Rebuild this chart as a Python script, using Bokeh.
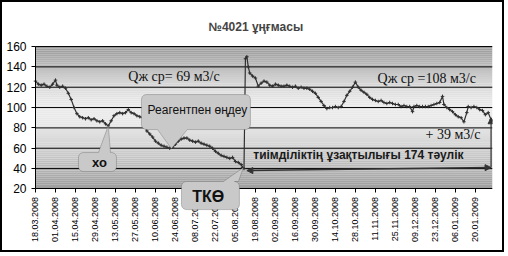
import numpy as np
import pandas as pd
from bokeh.plotting import figure
from bokeh.models import (FixedTicker, Range1d, Label, PolyAnnotation, Arrow,
                          NormalHead, BoxAnnotation)
from bokeh.embed import file_html
from bokeh.resources import INLINE

# ---------------- data ----------------
START = "18.03.2008"
tick_labels = ["18.03.2008", "01.04.2008", "15.04.2008", "29.04.2008", "13.05.2008",
               "27.05.2008", "10.06.2008", "24.06.2008", "08.07.2008", "22.07.2008",
               "05.08.2008", "19.08.2008", "02.09.2008", "16.09.2008", "30.09.2008",
               "14.10.2008", "28.10.2008", "11.11.2008", "25.11.2008", "09.12.2008",
               "23.12.2008", "06.01.2009", "20.01.2009"]
y_ticks = [20, 40, 60, 80, 100, 120, 140, 160]
X_END = 320  # last day of the date axis

# day offset from START, liquid rate (m3/day)
days = [0, 2, 4, 6, 8, 10, 12, 14, 15, 17, 19, 21, 23, 25, 27, 29, 31, 33, 35, 37,
        39, 41, 43, 45, 47, 49, 51, 53, 55, 57, 59, 61, 63, 65, 67, 69, 71, 73, 75, 76,
        78, 80, 82, 84, 86, 88, 90, 92, 94, 96, 98, 100, 102, 104, 106, 108, 110, 112, 114, 116,
        118, 120, 122, 124, 126, 128, 130, 132, 134, 136, 138, 140, 142, 144, 145, 146, 147, 148, 149, 150,
        152, 154, 156, 158, 160, 162, 164, 166, 168, 170, 172, 174, 176, 178, 180, 182, 184, 186, 188, 190,
        192, 194, 196, 198, 200, 202, 204, 206, 208, 210, 212, 214, 216, 218, 220, 222, 224, 226, 228, 230,
        232, 234, 236, 238, 240, 242, 244, 246, 248, 250, 252, 254, 256, 258, 260, 262, 264, 265, 267, 269,
        271, 273, 275, 277, 279, 281, 283, 285, 286, 288, 290, 292, 294, 296, 298, 300, 302, 303, 305, 307,
        309, 311, 313, 315, 317, 319]
q = [126, 123, 122, 123, 121, 120, 123, 127, 122, 120, 121, 119, 114, 108, 100, 94, 91, 90, 89, 90,
     88, 89, 87, 86, 87, 84, 82, 87, 92, 94, 95, 94, 95, 98, 95, 94, 92, 91, 90, 84,
     77, 74, 71, 67, 65, 63, 62, 61, 60, 61, 64, 67, 69, 70, 70, 68, 67, 66, 67, 65,
     64, 63, 62, 60, 57, 55, 53, 52, 51, 50, 51, 47, 46, 44, 41, 40, 148, 150, 140, 134,
     131, 129, 121, 124, 126, 125, 122, 121, 123, 122, 121, 121, 122, 121, 120, 121, 119, 120, 119, 119,
     118, 116, 114, 110, 106, 102, 99, 100, 100, 101, 100, 101, 106, 112, 116, 120, 125, 120, 117, 115,
     113, 110, 108, 107, 106, 107, 105, 104, 105, 104, 103, 103, 101, 102, 101, 101, 96, 101, 102, 101,
     101, 101, 101, 102, 103, 104, 105, 111, 103, 100, 98, 96, 93, 91, 90, 86, 95, 101, 100, 101,
     100, 98, 97, 93, 95, 88]

# ---------------- figure ----------------
start = pd.to_datetime(START, format="%d.%m.%Y")
tick_pos = [int((pd.to_datetime(t, format="%d.%m.%Y") - start).days) for t in tick_labels]

SANS = "Liberation Sans"
SERIF = "Liberation Serif"

# The frame covers the axis-label areas too (so the callout under the date axis and the
# outermost tick labels are not clipped); the axes are pinned at x = 0 and y = 20.
p = figure(width=504, height=252, x_range=Range1d(-22.4, X_END), y_range=Range1d(-36.6, 167.9),
           output_backend="svg", toolbar_location=None,
           min_border_left=1, min_border_right=14, min_border_top=36, min_border_bottom=8)
p.styles = {"border": "2px solid black"}
p.outline_line_color = None
p.background_fill_color = "white"
p.border_fill_color = "white"

p.title.text = "№4021 ұңғмасы"
p.title.align = "left"
p.title.offset = 205
p.title.text_font = SANS
p.title.text_font_size = "12px"
p.title.text_font_style = "bold"
p.title.standoff = 10

# vertical gray gradient of the plot area
stop_v = [20, 30, 40, 50, 60, 70, 80, 90, 100, 110, 120, 130, 140, 150, 160]
stop_c = [0x9e, 0xa8, 0xb6, 0xc4, 0xd0, 0xdb, 0xe4, 0xea, 0xea, 0xe4, 0xda, 0xce, 0xbc, 0xaa, 0x9a]
for b in range(20, 160, 2):
    g = int(round(np.interp(b + 1, stop_v, stop_c)))
    p.add_layout(BoxAnnotation(left=0, right=X_END, bottom=b, top=b + 2, fill_color=(g, g, g),
                               fill_alpha=1, line_alpha=0, level="image"))

# horizontal gridlines inside the plot area
p.xgrid.visible = False
p.ygrid.visible = False
grid_y = y_ticks[1:]
p.segment(x0=[0] * len(grid_y), y0=grid_y, x1=[X_END] * len(grid_y), y1=grid_y,
          line_color="black", line_width=1)

p.yaxis.ticker = FixedTicker(ticks=y_ticks)
p.yaxis.bounds = (20, 160)
p.yaxis.fixed_location = 0
p.xaxis.ticker = FixedTicker(ticks=tick_pos)
p.xaxis.bounds = (0, X_END)
p.xaxis.fixed_location = 20
p.xaxis.major_label_overrides = {pos: lab for pos, lab in zip(tick_pos, tick_labels)}
p.xaxis.major_label_orientation = np.pi / 2
p.xaxis.major_label_standoff = 4
for ax in (p.xaxis, p.yaxis):
    ax.axis_line_color = "black"
    ax.major_tick_line_color = "black"
    ax.major_tick_out = 4
    ax.major_tick_in = 0
    ax.minor_tick_line_color = None
    ax.major_label_text_font = SANS
    ax.major_label_text_color = "black"
p.xaxis.major_label_text_font_size = "9px"
p.yaxis.major_label_text_font_size = "12px"

# series
p.line(days, q, line_color="#303030", line_width=1.2)
p.scatter(days, q, marker="cross", size=3.5, line_color="#303030", line_width=1)

# texts
p.add_layout(Label(x=65, y=123.6, text="Qж ср= 69 м3/с", text_font=SERIF,
                   text_font_size="14px", text_color="#111111"))
p.add_layout(Label(x=239.5, y=121.6, text="Qж ср =108 м3/с", text_font=SERIF,
                   text_font_size="14px", text_color="#111111"))
p.add_layout(Label(x=311.5, y=66.5, text="+ 39 м3/с", text_font=SERIF, text_align="right",
                   text_font_size="14px", text_color="#111111"))
p.add_layout(Label(x=152.5, y=46, text="тиімділіктің ұзақтылығы 174 тәулік", text_font=SANS,
                   text_font_size="12px", text_font_style="bold", text_color="#1a1a1a"))

# arrows
p.add_layout(Arrow(start=NormalHead(size=6, fill_color="#333333", line_color="#333333"),
                   end=NormalHead(size=6, fill_color="#333333", line_color="#333333"),
                   x_start=148, y_start=38, x_end=319, y_end=41,
                   line_color="#333333", line_width=1.5))
p.add_layout(Arrow(end=NormalHead(size=6, fill_color="#333333", line_color="#333333"),
                   x_start=319, y_start=41, x_end=319, y_end=90,
                   line_color="#333333", line_width=1.2))


# callouts
def callout(x0, x1, y0, y1, base, tip, side, rx=3.5, ry=4.9, n=6):
    xs, ys = [], []

    def arc(cx, cy, a0, a1):
        for a in np.linspace(np.radians(a0), np.radians(a1), n):
            xs.append(cx + rx * np.cos(a))
            ys.append(cy + ry * np.sin(a))

    arc(x0 + rx, y1 - ry, 180, 90)
    if side == "top":
        xs.extend([base[0], tip[0], base[1]])
        ys.extend([y1, tip[1], y1])
    arc(x1 - rx, y1 - ry, 90, 0)
    arc(x1 - rx, y0 + ry, 0, -90)
    if side == "bottom":
        xs.extend([base[1], tip[0], base[0]])
        ys.extend([y0, tip[1], y0])
    arc(x0 + rx, y0 + ry, -90, -180)
    p.add_layout(PolyAnnotation(xs=xs, ys=ys, fill_color="#c9c9c9", fill_alpha=1,
                                line_color="#4a4a4a", line_width=1))


callout(30.1, 56.7, 37.1, 55.8, (44.1, 52.5), (51, 82.3), "top")
p.add_layout(Label(x=44.8, y=45.9, text="хо", text_font=SANS, text_font_size="13px",
                   text_font_style="bold", text_align="center", text_baseline="middle",
                   text_color="#111111"))
callout(74.2, 150.5, 78.4, 112.8, (85.4, 106.4), (95.2, 59.7), "bottom")
p.add_layout(Label(x=113.4, y=98, text="Реагентпен өңдеу", text_font=SANS, text_font_size="12px",
                   text_align="center", text_baseline="middle", text_color="#111111"))
callout(102.2, 142.8, -0.3, 27.3, (131.6, 142.1), (145.6, 41), "top")
p.add_layout(Label(x=121, y=12.5, text="ТКӨ", text_font=SANS, text_font_size="16px",
                   text_font_style="bold", text_align="center", text_baseline="middle",
                   text_color="#111111"))

open("out.html", "w").write(file_html(p, INLINE))
